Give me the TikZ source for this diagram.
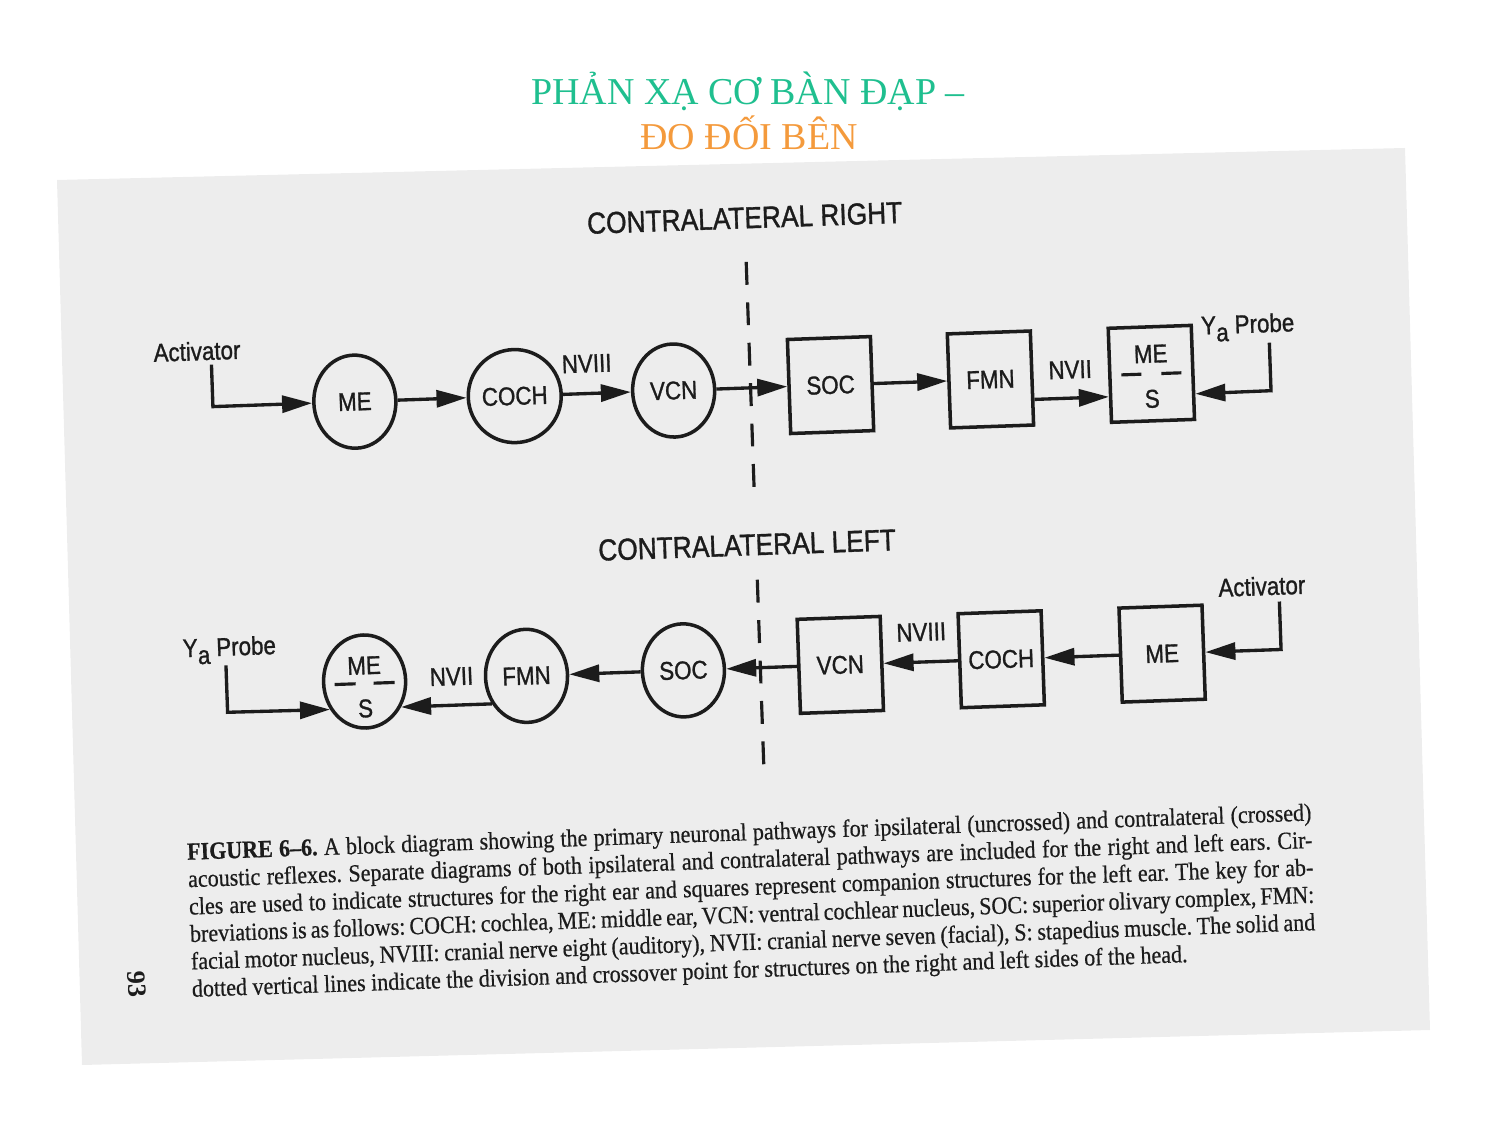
\documentclass[tikz,border=0pt]{standalone}
\usepackage{fontspec}
\usepackage{graphicx}
\setmainfont{Liberation Serif}
\newfontfamily\diagfont{Liberation Sans}[FakeBold=1.2]
\newfontfamily\capfont{Liberation Serif}[FakeBold=0.6]
\usetikzlibrary{arrows.meta,calc,shapes.geometric}
\definecolor{titlegreen}{HTML}{1FBF8F}
\definecolor{titleorange}{HTML}{F49A3C}
\definecolor{paper}{HTML}{EDEDED}
\definecolor{ink}{HTML}{1C1C1C}
% scanned type is a little condensed
\newcommand{\squeezed}[1]{\scalebox{0.87}[1]{#1}}
\newcommand{\capsqueezed}[1]{\scalebox{0.895}[1]{#1}}
\newcommand{\yaprobe}{\squeezed{Y\raisebox{-0.55ex}{a} Probe}}

\begin{document}
\begin{tikzpicture}[x=0.01cm,y=-0.01cm,
  every node/.style={inner sep=0pt, text=ink},
  lab/.style={font=\diagfont\fontsize{7.3}{8}\selectfont},
  heading/.style={font=\diagfont\fontsize{8.6}{9}\selectfont},
  ear/.style={ellipse, draw=ink, line width=1pt, minimum width=0.82cm,
    minimum height=0.93cm, font=\diagfont\fontsize{7.3}{8}\selectfont},
  blockbox/.style={rectangle, draw=ink, line width=1pt, minimum width=0.83cm,
    minimum height=0.94cm, font=\diagfont\fontsize{7.3}{8}\selectfont},
  flow/.style={draw=ink, line width=0.95pt, -{Triangle[length=0.3cm,width=0.17cm]}},
  midline/.style={draw=ink, line width=0.9pt, dash pattern=on 6.5pt off 5pt},
  tick/.style={draw=ink, line width=0.9pt},
]
\useasboundingbox (0,0) rectangle (1500,1125);

% title
\node[anchor=base, font=\fontsize{10.8}{12}\selectfont, text=titlegreen] (title1)
  at (748,105) {PHẢN XẠ CƠ BÀN ĐẠP –};
\node[anchor=base, font=\fontsize{10.8}{12}\selectfont, text=titleorange] (title2)
  at (749,150) {ĐO ĐỐI BÊN};

% the scanned page
\fill[paper] (57,180) -- (1405,148) -- (1430,1030) -- (82,1065) -- cycle;

\begin{scope}[rotate around={2:(750,600)}, transform shape]

  % headings and the midline
  \node[heading] (hRight) at (758,218) {\squeezed{CONTRALATERAL RIGHT}};
  \node[heading] (hLeft) at (749,545) {\squeezed{CONTRALATERAL LEFT}};
  \coordinate (divA1) at (758,262);
  \coordinate (divA2) at (758,492);
  \coordinate (divB1) at (758,580);
  \coordinate (divB2) at (758,772);
  \draw[midline] (divA1) -- (divA2);
  \draw[midline] (divB1) -- (divB2);

  % upper pathway
  \node[ear] (meA) at (362,388) {\squeezed{ME}};
  \node[ear] (cochA) at (522,388) {\squeezed{COCH}};
  \node[ear] (vcnA) at (681,388) {\squeezed{VCN}};
  \node[blockbox] (socA) at (838,388) {\squeezed{SOC}};
  \node[blockbox] (fmnA) at (998,388) {\squeezed{FMN}};
  \node[blockbox] (mesA) at (1159,388) {};
  \node[lab] (mesAme) at (1159,368) {\squeezed{ME}};
  \node[lab] (mesAs) at (1159,413) {\squeezed{S}};
  \draw[tick] (1129,388) -- (1149,388);
  \draw[tick] (1169,388) -- (1189,388);

  \node[lab] (actA) at (206,332) {\squeezed{Activator}};
  \node[lab] (nviiiA) at (595,358) {\squeezed{NVIII}};
  \node[lab] (nviiA) at (1078,381) {\squeezed{NVII}};
  \node[lab] (yaA) at (1257,345) {\yaprobe};

  \coordinate (actAstart) at (220,346);
  \coordinate (actAbend) at (220,388);
  \coordinate (yaAstart) at (1278,361);
  \coordinate (yaAbend) at (1278,409);

  \draw[flow] (actAstart) -- (actAbend) -- (meA.west);
  \draw[flow] (meA.east) -- (cochA.west);
  \draw[flow] (cochA.east) -- (vcnA.west);
  \draw[flow] (vcnA.east) -- (socA.west);
  \draw[flow] (socA.east) -- (fmnA.west);
  \draw[flow] ($(fmnA.north east)!0.72!(fmnA.south east)$) --
              ($(mesA.north west)!0.72!(mesA.south west)$);
  \draw[flow] (yaAstart) -- (yaAbend) -- ($(mesA.north east)!0.72!(mesA.south east)$);

  % lower pathway
  \node[ear] (mesB) at (362,668) {};
  \node[lab] (mesBme) at (362,652) {\squeezed{ME}};
  \node[lab] (mesBs) at (362,695) {\squeezed{S}};
  \draw[tick] (332,670) -- (353,670);
  \draw[tick] (371,670) -- (392,670);
  \node[ear] (fmnB) at (524,668) {\squeezed{FMN}};
  \node[ear] (socB) at (681,668) {\squeezed{SOC}};
  \node[blockbox] (vcnB) at (838,668) {\squeezed{VCN}};
  \node[blockbox] (cochB) at (999,668) {\squeezed{COCH}};
  \node[blockbox] (meB) at (1160,668) {\squeezed{ME}};

  \node[lab] (actB) at (1262,604) {\squeezed{Activator}};
  \node[lab] (nviiiB) at (920,638) {\squeezed{NVIII}};
  \node[lab] (nviiB) at (449,666) {\squeezed{NVII}};
  \node[lab] (yaB) at (228,632) {\yaprobe};

  \coordinate (actBstart) at (1279,620);
  \coordinate (actBbend) at (1279,668);
  \coordinate (yaBstart) at (224,647);
  \coordinate (yaBbend) at (224,694);

  \draw[flow] (actBstart) -- (actBbend) -- (meB.east);
  \draw[flow] (meB.west) -- (cochB.east);
  \draw[flow] (cochB.west) -- (vcnB.east);
  \draw[flow] (vcnB.west) -- (socB.east);
  \draw[flow] (socB.west) -- (fmnB.east);
  \draw[flow] (fmnB.217) -- (mesB.323);
  \draw[flow] (yaBstart) -- (yaBbend) -- (mesB.217);

  % caption
  \node[anchor=base west, font=\capfont\fontsize{7.0}{7.8}\selectfont\frenchspacing, text=ink] (caption)
    at (178,840) {\capsqueezed{\parbox[t]{12.56cm}{%
\makebox[\linewidth][s]{\textbf{FIGURE 6–6.} A block diagram showing the primary neuronal pathways for ipsilateral (uncrossed) and contralateral (crossed)}\\
\makebox[\linewidth][s]{acoustic reflexes. Separate diagrams of both ipsilateral and contralateral pathways are included for the right and left ears. Cir-}\\
\makebox[\linewidth][s]{cles are used to indicate structures for the right ear and squares represent companion structures for the left ear. The key for ab-}\\
\makebox[\linewidth][s]{breviations is as follows: COCH: cochlea, ME: middle ear, VCN: ventral cochlear nucleus, SOC: superior olivary complex, FMN:}\\
\makebox[\linewidth][s]{facial motor nucleus, NVIII: cranial nerve eight (auditory), NVII: cranial nerve seven (facial), S: stapedius muscle. The solid and}\\
dotted vertical lines indicate the division and crossover point for structures on the right and left sides of the head.}}};

  % page number
  \node[rotate=-90, font=\bfseries\fontsize{7.5}{8}\selectfont] (pgnum) at (124,963) {93};
\end{scope}
\end{tikzpicture}
\end{document}
